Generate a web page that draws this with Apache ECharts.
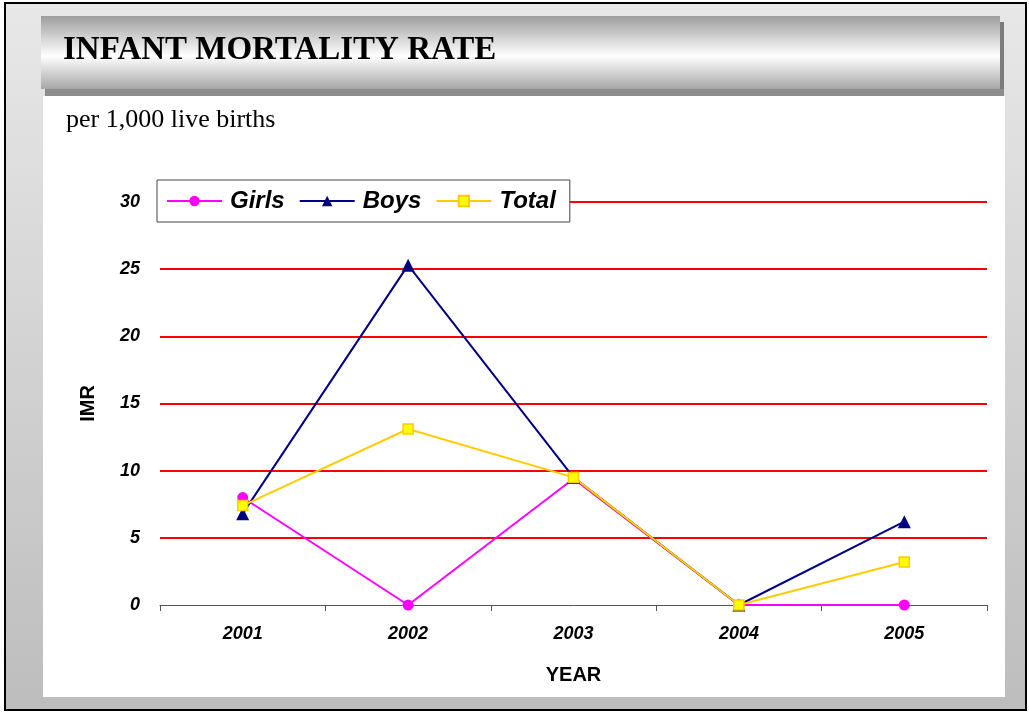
<!DOCTYPE html>
<html>
<head>
<meta charset="utf-8">
<script src="https://cdn.jsdelivr.net/npm/echarts@6/dist/echarts.min.js"></script>
<style>
html,body{margin:0;padding:0;background:#fff;}
#main{width:1029px;height:713px;}
</style>
</head>
<body>
<div id="main"></div>
<script>
// data
var years = ['2001', '2002', '2003', '2004', '2005'];
var girls = [8.0, 0, 9.4, 0, 0];
var boys = [6.8, 25.3, 9.5, 0, 6.2];
var total = [7.4, 13.1, 9.5, 0, 3.2];
var yTicks = { min: 0, max: 30, step: 5 };

var myChart = echarts.init(document.getElementById('main'));

var lbl = { fontFamily: 'Liberation Sans', fontWeight: 'bold', fontStyle: 'italic', fontSize: 18, color: '#000' };

var option = {
    animation: false,
    backgroundColor: '#fff',
    graphic: [
        { type: 'rect', z: -100, shape: { x: 5, y: 3, width: 1021, height: 707 },
          style: { fill: new echarts.graphic.LinearGradient(0, 0, 0, 1, [
              { offset: 0, color: '#e8e8e8' }, { offset: 1, color: '#bdbdbd' }]),
              stroke: '#000', lineWidth: 2 } },
        // shadow of the title band
        { type: 'rect', z: -99, shape: { x: 1000, y: 22, width: 4, height: 74 }, style: { fill: '#7c7c7c' } },
        { type: 'rect', z: -99, shape: { x: 45, y: 89, width: 959, height: 7 }, style: { fill: '#8c8c8c' } },
        // title band
        { type: 'rect', z: -98, shape: { x: 41, y: 16, width: 959, height: 73 },
          style: { fill: new echarts.graphic.LinearGradient(0, 0, 0, 1, [
              { offset: 0, color: '#9e9e9e' }, { offset: 0.55, color: '#ffffff' }, { offset: 1, color: '#a6a6a6' }]) } },
        // white panel
        { type: 'rect', z: -98, shape: { x: 43, y: 96, width: 962, height: 601 }, style: { fill: '#fff' } }
    ],
    title: [
        { text: 'INFANT MORTALITY RATE', left: 58, top: 29,
          textStyle: { fontFamily: 'Liberation Serif', fontWeight: 'bold', fontSize: 33, color: '#000' } },
        { text: 'per 1,000 live births', left: 61, top: 102,
          textStyle: { fontFamily: 'Liberation Serif', fontWeight: 'normal', fontSize: 26, color: '#000' } }
    ],
    legend: {
        left: 157, top: 180,
        padding: [9, 14, 9, 9],
        itemGap: 14,
        itemWidth: 55, itemHeight: 13,
        backgroundColor: '#fff',
        borderColor: '#444', borderWidth: 1,
        textStyle: { fontFamily: 'Liberation Sans', fontWeight: 'bold', fontStyle: 'italic', fontSize: 24, color: '#000', padding: [0, 0, 0, 3] },
        data: ['Girls', 'Boys', 'Total']
    },
    grid: { left: 160, right: 42, top: 202, bottom: 108 },
    xAxis: {
        type: 'category',
        data: years,
        boundaryGap: true,
        name: 'YEAR', nameLocation: 'middle', nameGap: 60,
        nameTextStyle: { fontFamily: 'Liberation Sans', fontWeight: 'bold', fontSize: 20, color: '#000' },
        axisLine: { lineStyle: { color: '#555', width: 1 } },
        axisTick: { show: true, length: 6, lineStyle: { color: '#555' } },
        axisLabel: Object.assign({ margin: 20 }, lbl),
        splitLine: { show: false }
    },
    yAxis: {
        type: 'value',
        min: yTicks.min, max: yTicks.max, interval: yTicks.step,
        name: 'IMR', nameLocation: 'middle', nameGap: 62, nameRotate: 90,
        nameTextStyle: { fontFamily: 'Liberation Sans', fontWeight: 'bold', fontSize: 20, color: '#000' },
        axisLine: { show: false },
        axisTick: { show: false },
        axisLabel: Object.assign({ margin: 20 }, lbl),
        splitLine: { show: true, showMinLine: false, lineStyle: { color: '#ff0000', width: 2 } }
    },
    series: [
        { name: 'Girls', type: 'line', data: girls, symbol: 'circle', symbolSize: 11,
          lineStyle: { color: '#ff00ff', width: 2 }, itemStyle: { color: '#ff00ff' } },
        { name: 'Boys', type: 'line', data: boys, symbol: 'triangle', symbolSize: 13,
          lineStyle: { color: '#000080', width: 2 }, itemStyle: { color: '#000080' } },
        { name: 'Total', type: 'line', data: total, symbol: 'rect', symbolSize: 10,
          lineStyle: { color: '#ffcc00', width: 2 },
          itemStyle: { color: '#ffff00', borderColor: '#ffcc00', borderWidth: 1.5 } }
    ]
};

myChart.setOption(option);
</script>
</body>
</html>
